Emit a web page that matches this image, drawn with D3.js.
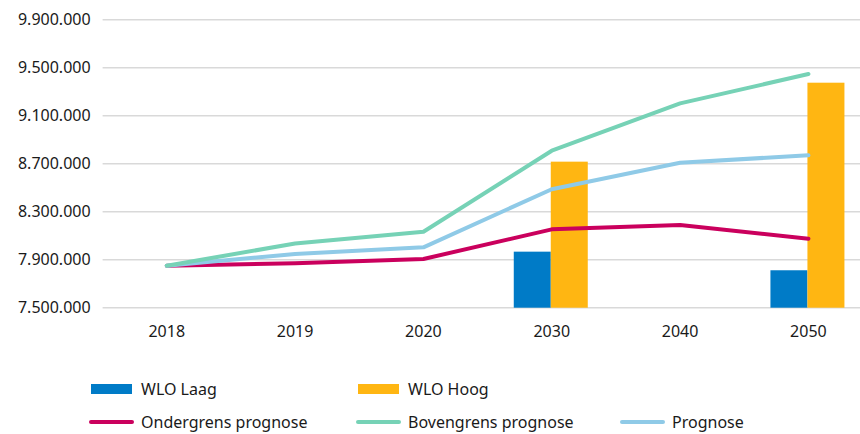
<!DOCTYPE html>
<html>
<head>
<meta charset="utf-8">
<script src="https://cdn.jsdelivr.net/npm/d3@7"></script>
<style>
  body { margin: 0; background: #fff; }
  svg { display: block; font-family: "Noto Sans", "Open Sans", sans-serif; }
  .grid line { stroke: #d9d9d9; stroke-width: 1.5; }
  .axis text { fill: #1a1a1a; font-size: 16px; }
  .legend text { fill: #1a1a1a; font-size: 16px; }
</style>
</head>
<body>
<svg id="chart" width="860" height="434"></svg>
<script>
var YEARS = ['2018', '2019', '2020', '2030', '2040', '2050'];
var Y_TICKS = [7500000, 7900000, 8300000, 8700000, 9100000, 9500000, 9900000];

// bars only for 2030 and 2050
var WLO_LAAG = [null, null, null, 7967000, null, 7812000];
var WLO_HOOG = [null, null, null, 8717000, null, 9375000];

var ONDERGRENS = [7850000, 7870000, 7906000, 8153000, 8189000, 8075000];
var BOVENGRENS = [7850000, 8035000, 8133000, 8808000, 9203000, 9447000];
var PROGNOSE = [7850000, 7948000, 8003000, 8487000, 8708000, 8770000];

var BLUE = '#007bc7';
var YELLOW = '#ffb612';
var MAGENTA = '#ca005d';
var GREEN = '#76d2b6';
var LIGHTBLUE = '#8fcae7';

var fmt = function(d) { return d3.format(',')(d).replace(/,/g, '.'); };

var svg = d3.select('#chart');
var margin = { top: 19.7, left: 102.6 };
var width = 770, height = 288;

var x = d3.scaleBand().domain(YEARS).range([0, width]);
var y = d3.scaleLinear().domain([7500000, 9900000]).range([height, 0]);

var g = svg.append('g')
    .attr('transform', 'translate(' + margin.left + ',' + margin.top + ')');

// ----- grid + y labels ----------------------------------------------------
g.append('g').attr('class', 'grid')
  .selectAll('line')
  .data(Y_TICKS)
  .enter().append('line')
    .attr('x1', 0).attr('x2', width)
    .attr('y1', (d) => y(d)).attr('y2', (d) => y(d));

g.append('g').attr('class', 'axis')
  .selectAll('text')
  .data(Y_TICKS)
  .enter().append('text')
    .attr('x', -12)
    .attr('y', (d) => y(d))
    .attr('dy', '0.35em')
    .attr('text-anchor', 'end')
    .text(fmt);

g.append('g').attr('class', 'axis')
  .selectAll('text')
  .data(YEARS)
  .enter().append('text')
    .attr('x', (d) => x(d) + x.bandwidth() / 2)
    .attr('y', height + 29)
    .attr('text-anchor', 'middle')
    .text((d) => d);

// ----- bars ---------------------------------------------------------------
var barW = 37;
var bars = [];
YEARS.forEach(function(yr, i) {
  if (WLO_LAAG[i] != null) bars.push({ year: yr, v: WLO_LAAG[i], off: -barW - 1, c: BLUE });
  if (WLO_HOOG[i] != null) bars.push({ year: yr, v: WLO_HOOG[i], off: -1, c: YELLOW });
});

g.selectAll('.bar')
  .data(bars)
  .enter().append('rect')
    .attr('class', 'bar')
    .attr('x', (d) => x(d.year) + x.bandwidth() / 2 + d.off)
    .attr('width', barW)
    .attr('y', (d) => y(d.v))
    .attr('height', (d) => height - y(d.v))
    .attr('fill', (d) => d.c);

// ----- lines --------------------------------------------------------------
var line = d3.line()
  .x((d, i) => x(YEARS[i]) + x.bandwidth() / 2)
  .y((d) => y(d));

[[ONDERGRENS, MAGENTA], [PROGNOSE, LIGHTBLUE], [BOVENGRENS, GREEN]].forEach(function(s) {
  g.append('path')
    .datum(s[0])
    .attr('d', line)
    .attr('fill', 'none')
    .attr('stroke', s[1])
    .attr('stroke-width', 4)
    .attr('stroke-linecap', 'round')
    .attr('stroke-linejoin', 'round');
});

// ----- legend -------------------------------------------------------------
var legend = svg.append('g').attr('class', 'legend');
var items = [
  { name: 'WLO Laag', c: BLUE, type: 'rect', x: 91, y: 389 },
  { name: 'WLO Hoog', c: YELLOW, type: 'rect', x: 358, y: 389 },
  { name: 'Ondergrens prognose', c: MAGENTA, type: 'line', x: 91, y: 422 },
  { name: 'Bovengrens prognose', c: GREEN, type: 'line', x: 358, y: 422 },
  { name: 'Prognose', c: LIGHTBLUE, type: 'line', x: 622, y: 422 }
];
items.forEach(function(it) {
  if (it.type === 'rect') {
    legend.append('rect')
      .attr('x', it.x).attr('y', it.y - 5)
      .attr('width', 41).attr('height', 10)
      .attr('fill', it.c);
  } else {
    legend.append('line')
      .attr('x1', it.x).attr('x2', it.x + 41)
      .attr('y1', it.y).attr('y2', it.y)
      .attr('stroke', it.c).attr('stroke-width', 4)
      .attr('stroke-linecap', 'round');
  }
  legend.append('text')
    .attr('x', it.x + 50)
    .attr('y', it.y)
    .attr('dy', '0.35em')
    .text(it.name);
});
</script>
</body>
</html>
